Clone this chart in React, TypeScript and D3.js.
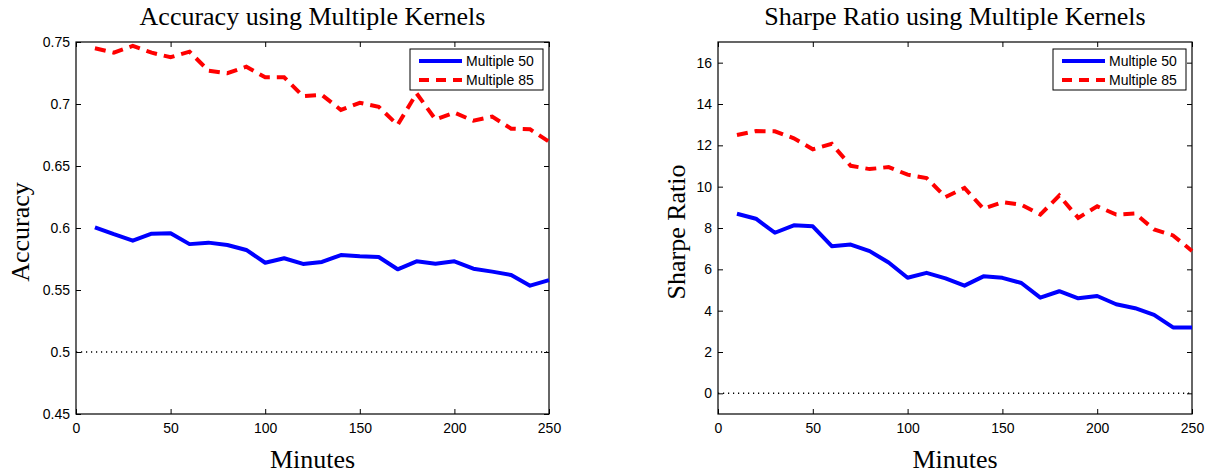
import React, { useEffect, useRef } from "react";
import * as d3 from "d3";

// minutes (x)
const minutes = [10, 20, 30, 40, 50, 60, 70, 80, 90, 100, 110, 120, 130, 140, 150, 160, 170, 180, 190, 200, 210, 220, 230, 240, 250];

// accuracy
const accuracy50 = [0.6006, 0.595, 0.5898, 0.5954, 0.5957, 0.587, 0.5882, 0.5863, 0.5823, 0.572, 0.5756, 0.571, 0.5726, 0.5782, 0.5772, 0.5766, 0.5667, 0.5731, 0.5712, 0.5731, 0.5672, 0.5648, 0.5621, 0.5535, 0.558];
const accuracy85 = [0.7449, 0.7414, 0.7468, 0.7414, 0.7377, 0.7422, 0.7269, 0.7248, 0.7301, 0.7215, 0.7215, 0.7063, 0.7073, 0.6952, 0.701, 0.6978, 0.6831, 0.7086, 0.6876, 0.693, 0.6865, 0.6898, 0.6801, 0.6796, 0.6696];

// sharpe ratio
const sharpe50 = [8.69, 8.45, 7.77, 8.13, 8.08, 7.12, 7.2, 6.88, 6.33, 5.59, 5.83, 5.56, 5.21, 5.66, 5.59, 5.34, 4.63, 4.94, 4.6, 4.71, 4.31, 4.12, 3.8, 3.19, 3.19];
const sharpe85 = [12.5, 12.69, 12.68, 12.34, 11.81, 12.07, 11.01, 10.85, 10.95, 10.58, 10.42, 9.5, 9.94, 8.93, 9.25, 9.12, 8.65, 9.57, 8.49, 9.05, 8.65, 8.7, 7.93, 7.64, 6.89];

const minuteTicks = [0, 50, 100, 150, 200, 250];
const accuracyTicks = [0.45, 0.5, 0.55, 0.6, 0.65, 0.7, 0.75];
const sharpeTicks = [0, 2, 4, 6, 8, 10, 12, 14, 16];

const seriesNames = ["Multiple 50", "Multiple 85"];

const W = 1212;
const H = 474;
const serif = "'Liberation Serif', 'Times New Roman', serif";
const sans = "'Liberation Sans', Arial, Helvetica, sans-serif";

type PanelOpts = {
  left: number;
  right: number;
  title: string;
  ylabel: string;
  ylabelX: number;
  yDomain: [number, number];
  yTicks: number[];
  s50: number[];
  s85: number[];
  baseline: number;
};

const drawPanel = (svg: d3.Selection<SVGSVGElement, unknown, null, undefined>, o: PanelOpts) => {
  const top = 42;
  const bottom = 414;
  const x = d3.scaleLinear().domain([0, 250]).range([o.left, o.right]);
  const y = d3.scaleLinear().domain(o.yDomain).range([bottom, top]);
  const fmt = (d: number) => String(+d.toFixed(2));

  const g = svg.append("g");

  // axes with inward ticks (box style)
  const styleAxis = (sel: any) => {
    sel.select(".domain").remove();
    sel.selectAll(".tick line").attr("stroke", "#000").attr("stroke-width", 1);
    sel.selectAll(".tick text").attr("fill", "#000").style("font-family", sans).style("font-size", "14px");
  };

  g.append("g")
    .attr("transform", `translate(0,${bottom})`)
    .call(d3.axisBottom(x).tickValues(minuteTicks).tickSize(-5).tickPadding(9).tickFormat((d: any) => fmt(d)))
    .call(styleAxis);
  g.append("g")
    .attr("transform", `translate(0,${top})`)
    .call(d3.axisTop(x).tickValues(minuteTicks).tickSize(-5).tickFormat(() => ""))
    .call(styleAxis);
  g.append("g")
    .attr("transform", `translate(${o.left},0)`)
    .call(d3.axisLeft(y).tickValues(o.yTicks).tickSize(-5).tickPadding(6).tickFormat((d: any) => fmt(d)))
    .call(styleAxis);
  g.append("g")
    .attr("transform", `translate(${o.right},0)`)
    .call(d3.axisRight(y).tickValues(o.yTicks).tickSize(-5).tickFormat(() => ""))
    .call(styleAxis);

  // box
  g.append("rect")
    .attr("x", o.left)
    .attr("y", top)
    .attr("width", o.right - o.left)
    .attr("height", bottom - top)
    .attr("fill", "none")
    .attr("stroke", "#000")
    .attr("stroke-width", 1.2);

  // dotted baseline
  g.append("line")
    .attr("x1", x(0))
    .attr("x2", x(250))
    .attr("y1", y(o.baseline))
    .attr("y2", y(o.baseline))
    .attr("stroke", "#000")
    .attr("stroke-width", 1.5)
    .attr("stroke-dasharray", "1.2,3.8");

  const line = d3
    .line<number>()
    .x((_, i) => x(minutes[i]))
    .y((d) => y(d));

  g.append("path")
    .attr("d", line(o.s50))
    .attr("fill", "none")
    .attr("stroke", "#0000ff")
    .attr("stroke-width", 4)
    .attr("stroke-linejoin", "round");

  g.append("path")
    .attr("d", line(o.s85))
    .attr("fill", "none")
    .attr("stroke", "#ff0000")
    .attr("stroke-width", 4)
    .attr("stroke-dasharray", "11,7");

  // title
  g.append("text")
    .attr("x", (o.left + o.right) / 2)
    .attr("y", 25)
    .attr("text-anchor", "middle")
    .style("font-family", serif)
    .style("font-size", "26px")
    .text(o.title);

  // x label
  g.append("text")
    .attr("x", (o.left + o.right) / 2)
    .attr("y", 468)
    .attr("text-anchor", "middle")
    .style("font-family", serif)
    .style("font-size", "26px")
    .text("Minutes");

  // y label
  g.append("text")
    .attr("transform", `translate(${o.ylabelX},${(top + bottom) / 2 + 4}) rotate(-90)`)
    .attr("text-anchor", "middle")
    .style("font-family", serif)
    .style("font-size", "26px")
    .text(o.ylabel);

  // legend
  const lx = o.right - 139;
  const ly = 49;
  const lg = g.append("g").attr("transform", `translate(${lx},${ly})`);
  lg.append("rect")
    .attr("width", 133)
    .attr("height", 41)
    .attr("fill", "#fff")
    .attr("stroke", "#000")
    .attr("stroke-width", 1);
  seriesNames.forEach((name, i) => {
    const cy = 12 + i * 19;
    lg.append("line")
      .attr("x1", 9)
      .attr("x2", 52)
      .attr("y1", cy)
      .attr("y2", cy)
      .attr("stroke", i === 0 ? "#0000ff" : "#ff0000")
      .attr("stroke-width", 4)
      .attr("stroke-dasharray", i === 0 ? null : "10,7");
    lg.append("text")
      .attr("x", 56)
      .attr("y", cy)
      .attr("dy", "0.36em")
      .style("font-family", sans)
      .style("font-size", "14px")
      .text(name);
  });
};

const App = () => {
  const svgRef = useRef<SVGSVGElement>(null);

  useEffect(() => {
    const svg = d3.select(svgRef.current as SVGSVGElement);
    svg.selectAll("*").remove();

    drawPanel(svg, {
      left: 76,
      right: 549,
      title: "Accuracy using Multiple Kernels",
      ylabel: "Accuracy",
      ylabelX: 29,
      yDomain: [0.45, 0.75],
      yTicks: accuracyTicks,
      s50: accuracy50,
      s85: accuracy85,
      baseline: 0.5,
    });

    drawPanel(svg, {
      left: 718,
      right: 1192,
      title: "Sharpe Ratio using Multiple Kernels",
      ylabel: "Sharpe Ratio",
      ylabelX: 685,
      yDomain: [-1, 17],
      yTicks: sharpeTicks,
      s50: sharpe50,
      s85: sharpe85,
      baseline: 0,
    });
  }, []);

  return (
    <svg
      ref={svgRef}
      width={W}
      height={H}
      style={{ position: "absolute", left: 0, top: 0, background: "#fff" }}
    ></svg>
  );
};

export default App;
